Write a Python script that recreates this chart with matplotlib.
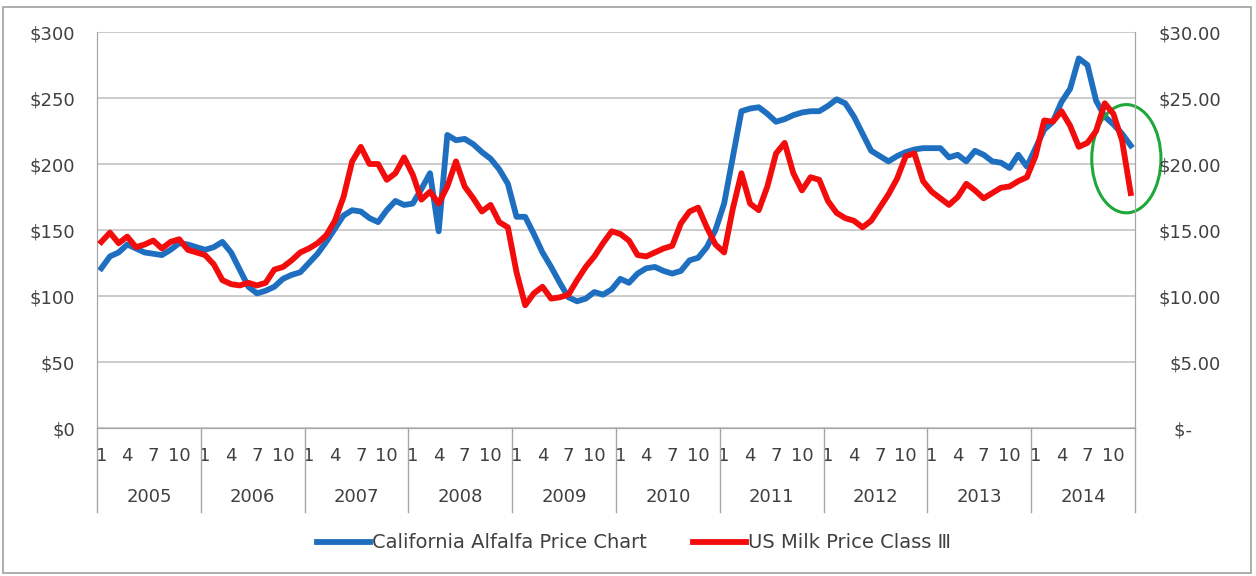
"""California alfalfa price vs US milk price class III, monthly 2005-2014."""

import matplotlib
matplotlib.use('Agg')
import matplotlib.pyplot as plt
from matplotlib.patches import Ellipse, Rectangle
from matplotlib.lines import Line2D
import matplotlib.transforms as mtransforms

###############################################################################
# DATA :
YEARS = ['2005', '2006', '2007', '2008', '2009',
         '2010', '2011', '2012', '2013', '2014']
MONTH_LABELS = ['1', '4', '7', '10']
MONTH_TICKS = [0, 3, 6, 9]  # month index inside a year

# $ / ton (left axis)
ALFALFA = [
    121, 130, 133, 139, 136, 133, 132, 131, 135, 140, 139, 137,  # 2005
    135, 137, 141, 133, 120, 107, 102, 104, 107, 113, 116, 118,  # 2006
    125, 132, 141, 151, 161, 165, 164, 159, 156, 165, 172, 169,  # 2007
    170, 181, 193, 149, 222, 218, 219, 215, 209, 204, 196, 185,  # 2008
    160, 160, 147, 133, 122, 110, 99, 96, 98, 103, 101, 105,     # 2009
    113, 110, 117, 121, 122, 119, 117, 119, 127, 129, 137, 150,  # 2010
    170, 205, 240, 242, 243, 238, 232, 234, 237, 239, 240, 240,  # 2011
    244, 249, 246, 236, 223, 210, 206, 202, 206, 209, 211, 212,  # 2012
    212, 212, 205, 207, 202, 210, 207, 202, 201, 197, 207, 198,  # 2013
    212, 226, 232, 247, 257, 280, 275, 248, 236, 230, 223, 214,  # 2014
]

# $ / cwt (right axis)
MILK = [
    14.1, 14.8, 14.0, 14.5, 13.7, 13.9, 14.2, 13.6, 14.1, 14.3, 13.5, 13.3,
    13.1, 12.4, 11.2, 10.9, 10.8, 11.0, 10.8, 11.0, 12.0, 12.2, 12.7, 13.3,
    13.6, 14.0, 14.6, 15.7, 17.5, 20.2, 21.3, 20.0, 20.0, 18.8, 19.3, 20.5,
    19.2, 17.3, 17.9, 17.0, 18.3, 20.2, 18.3, 17.4, 16.4, 16.9, 15.6, 15.2,
    11.8, 9.3, 10.2, 10.7, 9.8, 9.9, 10.1, 11.2, 12.2, 13.0, 14.0, 14.9,
    14.7, 14.2, 13.1, 13.0, 13.3, 13.6, 13.8, 15.5, 16.4, 16.7, 15.2, 13.9,
    13.3, 16.6, 19.3, 17.0, 16.5, 18.3, 20.8, 21.6, 19.3, 18.0, 19.0, 18.8,
    17.2, 16.3, 15.9, 15.7, 15.2, 15.7, 16.7, 17.7, 18.9, 20.6, 20.8, 18.7,
    17.9, 17.4, 16.9, 17.5, 18.5, 18.0, 17.4, 17.8, 18.2, 18.3, 18.7, 19.0,
    20.6, 23.3, 23.2, 24.0, 22.9, 21.3, 21.6, 22.5, 24.6, 23.8, 21.8, 17.8,
]

LEFT_TICKS = [0, 50, 100, 150, 200, 250, 300]
RIGHT_TICKS = [0, 5, 10, 15, 20, 25, 30]

BLUE = '#1F6FC1'
RED = '#F20C0C'
GRID = '#C8C8C8'
AXIS = '#A6A6A6'
TEXT = '#404040'

###############################################################################
# PLOT :
W, H = 1256, 576
fig = plt.figure(figsize=(W / 100, H / 100), dpi=100)
fig.patch.set_facecolor('white')
ax = fig.add_axes([97 / W, 1 - 428 / H, (1135 - 97) / W, (428 - 32) / H])
ax2 = ax.twinx()

n = len(ALFALFA)
x = list(range(n))
line_alf, = ax.plot(x, ALFALFA, color=BLUE, lw=4.2, solid_joinstyle='round',
                    label='California Alfalfa Price Chart', zorder=3)
line_milk, = ax2.plot(x, MILK, color=RED, lw=4.2, solid_joinstyle='round',
                      label='US Milk Price Class \u2162', zorder=4)

ax.set_xlim(-0.5, n - 0.5)
ax.set_ylim(0, 300)
ax2.set_ylim(0, 30)

# grid + frame
ax.set_yticks(LEFT_TICKS)
ax.set_yticklabels([f'${v}' for v in LEFT_TICKS])
ax2.set_yticks(RIGHT_TICKS)
# accounting format: zero shown as "$-" (dash sits left of the decimals)
ax2.set_yticklabels(['$-     ' if v == 0 else f'${v:.2f}' for v in RIGHT_TICKS])
ax.grid(axis='y', color=GRID, lw=1.3)
ax.set_axisbelow(True)
for a in (ax, ax2):
    a.spines['top'].set_visible(False)
    a.spines['left'].set_color(AXIS)
    a.spines['right'].set_color(AXIS)
    a.spines['bottom'].set_color(AXIS)
ax.tick_params(axis='y', length=0, pad=16, labelsize=13, labelcolor=TEXT)
ax2.tick_params(axis='y', length=0, pad=62, labelsize=13, labelcolor=TEXT)
for lab in ax2.get_yticklabels():
    lab.set_horizontalalignment('right')

# category axis : months then years
month_pos = [12 * k + m for k in range(len(YEARS)) for m in MONTH_TICKS]
ax.set_xticks(month_pos)
ax.set_xticklabels(MONTH_LABELS * len(YEARS))
ax.tick_params(axis='x', length=0, pad=14, labelsize=13, labelcolor=TEXT)
ax2.tick_params(axis='x', length=0, labelbottom=False)

trans = mtransforms.blended_transform_factory(ax.transData, ax.transAxes)
sep_bottom = -(512 - 428) / (428 - 32)
for k in range(len(YEARS) + 1):
    ax.add_line(Line2D([12 * k - 0.5, 12 * k - 0.5], [0, sep_bottom],
                       transform=trans, color=AXIS, lw=1, clip_on=False))
year_y = -(497 - 428) / (428 - 32)
for k, year in enumerate(YEARS):
    ax.text(12 * k + 5.5, year_y, year, transform=trans, ha='center',
            va='center', fontsize=13, color=TEXT)

# highlight of the last drop
ax.add_patch(Ellipse((118.5, 204), 8.0, 82, fill=False, ec='#1FA83A',
                     lw=2.2, clip_on=False, zorder=5))

# legend
fig.legend(handles=[line_alf, line_milk], loc='center',
           bbox_to_anchor=(634 / W, 1 - 543 / H), ncol=2, frameon=False,
           fontsize=14, handlelength=2.7, handletextpad=0.1,
           columnspacing=2.4, labelcolor=TEXT)

# outer frame
fig.add_artist(Rectangle((3 / W, 3 / H), (W - 8) / W, (H - 10) / H,
                         transform=fig.transFigure, fill=False,
                         ec='#A0A0A0', lw=1.2))

fig.savefig('out.png', dpi=100)
